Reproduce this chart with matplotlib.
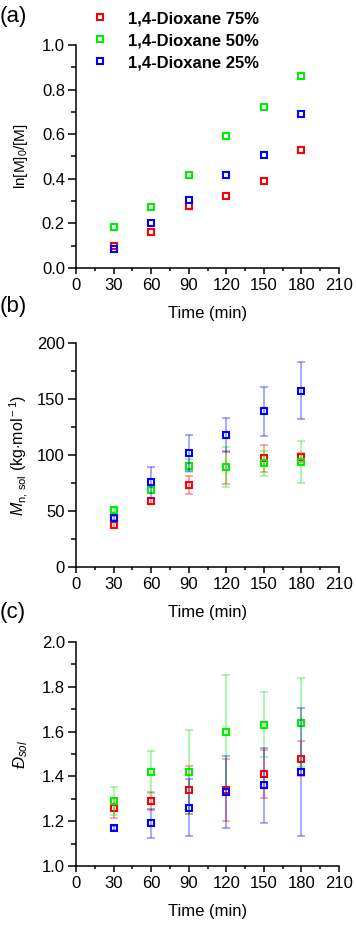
import matplotlib
matplotlib.use("Agg")
import matplotlib.pyplot as plt
import numpy as np
from matplotlib.ticker import MultipleLocator, FormatStrFormatter

plt.rcParams["font.family"] = ["Arial", "Liberation Sans", "DejaVu Sans"]
plt.rcParams["mathtext.fontset"] = "custom"
plt.rcParams["mathtext.rm"] = "Liberation Sans"
plt.rcParams["mathtext.it"] = "Liberation Sans:italic"

time = [30, 60, 90, 120, 150, 180]
labels = ["1,4-Dioxane 75%", "1,4-Dioxane 50%", "1,4-Dioxane 25%"]
colors = ["#ff0000", "#00ee00", "#0000ff"]

# (a) ln[M]0/[M]
ln_75 = [0.10, 0.16, 0.28, 0.325, 0.39, 0.53]
ln_50 = [0.185, 0.275, 0.415, 0.59, 0.72, 0.86]
ln_25 = [0.085, 0.20, 0.305, 0.415, 0.505, 0.69]

# (b) Mn,sol (kg/mol) and errors
mn_75 = [37.5, 59, 73.5, 89, 97, 98]
mn_75_err = [3, 3, 8, 15, 12, 4]
mn_50 = [51, 69, 90.5, 89.5, 92.5, 94]
mn_50_err = [2, 3, 6, 18, 11, 19]
mn_25 = [44, 75.5, 102, 118, 139, 157.5]
mn_25_err = [2, 14, 16, 15, 22, 25.5]

# (c) dispersity and errors
d_75 = [1.26, 1.29, 1.34, 1.34, 1.41, 1.48]
d_75_err = [0.045, 0.04, 0.108, 0.14, 0.107, 0.08]
d_50 = [1.29, 1.42, 1.42, 1.60, 1.63, 1.64]
d_50_err = [0.063, 0.094, 0.186, 0.255, 0.145, 0.198]
d_25 = [1.17, 1.19, 1.26, 1.33, 1.36, 1.42]
d_25_err = [0.01, 0.063, 0.128, 0.16, 0.167, 0.285]

fig = plt.figure(figsize=(3.56, 9.27), dpi=100)

ax_a = fig.add_axes([0.2135, 0.7109, 0.7388, 0.2406])
ax_b = fig.add_axes([0.2135, 0.3883, 0.7388, 0.2416])
ax_c = fig.add_axes([0.2135, 0.0658, 0.7388, 0.2416])

mk = dict(marker="s", ms=5.0, mfc="none", mew=1.5, ls="none")

for y, c, lab in zip([ln_75, ln_50, ln_25], colors, labels):
    ax_a.plot(time, y, mec=c, label=lab, **mk)

for y, e, c in zip([mn_75, mn_50, mn_25], [mn_75_err, mn_50_err, mn_25_err], colors):
    ax_b.errorbar(time, y, yerr=e, ecolor=c, elinewidth=1.2, capsize=3, capthick=1.2,
                  fmt="none", alpha=0.4)
    ax_b.plot(time, y, mec=c, **mk)

for y, e, c in zip([d_75, d_50, d_25], [d_75_err, d_50_err, d_25_err], colors):
    ax_c.errorbar(time, y, yerr=e, ecolor=c, elinewidth=1.2, capsize=3, capthick=1.2,
                  fmt="none", alpha=0.4)
    ax_c.plot(time, y, mec=c, **mk)

for ax in [ax_a, ax_b, ax_c]:
    ax.spines["top"].set_visible(False)
    ax.spines["right"].set_visible(False)
    ax.spines["left"].set_linewidth(1.1)
    ax.spines["bottom"].set_linewidth(1.1)
    ax.set_xlim(0, 210)
    ax.xaxis.set_major_locator(MultipleLocator(30))
    ax.xaxis.set_minor_locator(MultipleLocator(15))
    ax.tick_params(which="major", direction="out", width=1.1, labelsize=12)
    ax.tick_params(axis="x", which="major", length=4.5, pad=3)
    ax.tick_params(axis="y", which="major", length=6, pad=2)
    ax.tick_params(axis="x", which="minor", direction="out", length=2.5, width=1.1)
    ax.tick_params(axis="y", which="minor", direction="out", length=3.5, width=1.1)
    ax.set_xlabel("Time (min)", fontsize=12, labelpad=9)

ax_a.set_ylim(0, 1.0)
ax_a.yaxis.set_major_locator(MultipleLocator(0.2))
ax_a.yaxis.set_minor_locator(MultipleLocator(0.1))
ax_a.yaxis.set_major_formatter(FormatStrFormatter("%.1f"))
ax_a.set_ylabel(r"ln[M]$_0$/[M]", fontsize=11)

ax_b.set_ylim(0, 200)
ax_b.yaxis.set_major_locator(MultipleLocator(50))
ax_b.yaxis.set_minor_locator(MultipleLocator(25))
ax_b.set_ylabel(r"$M_{\rm n,\,sol}$ (kg$\cdot$mol$^{\rm -1}$)", fontsize=11.5)

ax_c.set_ylim(1.0, 2.0)
ax_c.yaxis.set_major_locator(MultipleLocator(0.2))
ax_c.yaxis.set_minor_locator(MultipleLocator(0.1))
ax_c.yaxis.set_major_formatter(FormatStrFormatter("%.1f"))
ax_c.set_ylabel(r"$Đ_{sol}$", fontsize=12)

for ax in [ax_a, ax_b, ax_c]:
    ax.yaxis.set_label_coords(-0.175, 0.5)

fig.text(0.0, 0.982, "(a)", fontsize=16, va="center", ha="left")
fig.text(0.0, 0.669, "(b)", fontsize=16, va="center", ha="left")
fig.text(0.0, 0.339, "(c)", fontsize=16, va="center", ha="left")

fig.legend(loc="upper left", bbox_to_anchor=(0.214, 1.004), frameon=False, numpoints=1,
           handlelength=1.0, handletextpad=1.2, labelspacing=0.42,
           prop={"weight": "bold", "size": 12})

fig.savefig("out.png", dpi=100)
